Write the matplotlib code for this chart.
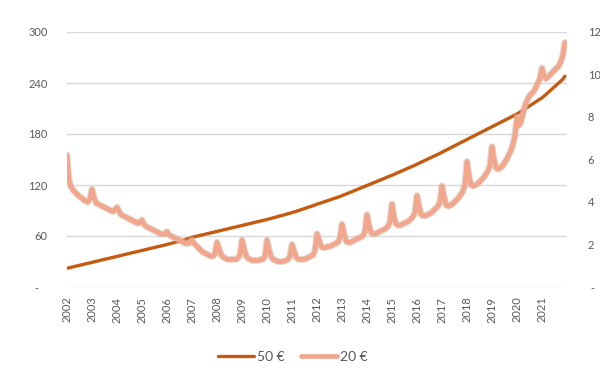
import matplotlib.pyplot as plt
from matplotlib.ticker import FixedLocator, FuncFormatter

plt.rcParams['font.family'] = ['Lato', 'DejaVu Sans']

# monthly values, one row per year 2002..2021
years = list(range(2002, 2022))

eur50 = [
    22, 22.6, 23.2, 23.8, 24.3, 24.9, 25.5, 26.1, 26.7, 27.2, 27.8, 28.4,
    29, 29.6, 30.2, 30.8, 31.3, 31.9, 32.5, 33.1, 33.7, 34.2, 34.8, 35.4,
    36, 36.6, 37.2, 37.8, 38.3, 38.9, 39.5, 40.1, 40.7, 41.2, 41.8, 42.4,
    43, 43.6, 44.2, 44.8, 45.3, 45.9, 46.5, 47.1, 47.7, 48.2, 48.8, 49.4,
    50, 50.7, 51.3, 52.0, 52.7, 53.3, 54.0, 54.7, 55.3, 56.0, 56.7, 57.3,
    58.5, 59, 59.6, 60.2, 60.7, 61.3, 61.9, 62.5, 63.1, 63.6, 64.2, 64.8,
    65.5, 66, 66.6, 67.2, 67.7, 68.3, 68.9, 69.5, 70.1, 70.6, 71.2, 71.8,
    72.5, 73, 73.6, 74.2, 74.7, 75.3, 75.9, 76.5, 77.1, 77.6, 78.2, 78.8,
    79.5, 80, 80.7, 81.4, 82, 82.7, 83.4, 84, 84.7, 85.4, 86, 86.7,
    87.5, 88.2, 89, 89.8, 90.6, 91.5, 92.3, 93.2, 94, 94.8, 95.6, 96.4,
    97.5, 98.2, 99, 99.8, 100.6, 101.5, 102.3, 103.2, 104, 104.8, 105.6, 106.4,
    107.5, 108.4, 109.4, 110.4, 111.4, 112.4, 113.4, 114.4, 115.4, 116.4, 117.4, 118.3,
    119.5, 120.4, 121.4, 122.4, 123.4, 124.4, 125.4, 126.4, 127.4, 128.4, 129.4, 130.3,
    131.5, 132.5, 133.6, 134.7, 135.8, 136.8, 137.9, 139, 140.1, 141.1, 142.2, 143.2,
    144.5, 145.6, 146.8, 148, 149.1, 150.3, 151.5, 152.6, 153.8, 155, 156.1, 157.2,
    158.6, 159.8, 161.1, 162.3, 163.6, 164.8, 166.1, 167.3, 168.6, 169.8, 171.1, 172.2,
    173.6, 174.8, 176.1, 177.3, 178.6, 179.8, 181.1, 182.3, 183.6, 184.8, 186.1, 187.2,
    188.6, 189.8, 191.1, 192.3, 193.6, 194.8, 196.1, 197.3, 198.6, 199.8, 201.1, 202.2,
    203.6, 205.1, 206.6, 208.2, 209.8, 211.4, 213, 214.6, 216.2, 217.8, 219.4, 220.9,
    222.6, 224.6, 226.8, 229, 231.2, 233.4, 235.6, 237.8, 240, 242.2, 244.4, 248,
]

eur20 = [
    6.2, 5.0, 4.7, 4.55, 4.45, 4.35, 4.25, 4.2, 4.1, 4.05, 4.0, 4.15,
    4.6, 4.2, 3.95, 3.9, 3.85, 3.8, 3.75, 3.7, 3.65, 3.6, 3.55, 3.65,
    3.75, 3.55, 3.4, 3.35, 3.3, 3.25, 3.2, 3.15, 3.1, 3.05, 3.0, 3.05,
    3.15, 2.95, 2.85, 2.8, 2.75, 2.7, 2.65, 2.6, 2.55, 2.5, 2.5, 2.5,
    2.6, 2.45, 2.4, 2.35, 2.3, 2.25, 2.2, 2.15, 2.1, 2.05, 2.05, 2.1,
    2.2, 2.05, 1.95, 1.85, 1.75, 1.65, 1.6, 1.55, 1.5, 1.45, 1.45, 1.55,
    2.1, 1.8, 1.5, 1.4, 1.35, 1.3, 1.3, 1.3, 1.3, 1.3, 1.35, 1.5,
    2.2, 1.8, 1.45, 1.35, 1.3, 1.25, 1.25, 1.25, 1.25, 1.3, 1.3, 1.45,
    2.2, 1.75, 1.4, 1.3, 1.25, 1.2, 1.2, 1.2, 1.2, 1.25, 1.3, 1.45,
    2.0, 1.7, 1.4, 1.3, 1.3, 1.3, 1.3, 1.35, 1.4, 1.45, 1.5, 1.7,
    2.5, 2.2, 1.9, 1.85, 1.85, 1.9, 1.9, 1.95, 2.0, 2.05, 2.1, 2.3,
    2.95, 2.5, 2.15, 2.1, 2.1, 2.15, 2.2, 2.25, 2.3, 2.35, 2.4, 2.6,
    3.4, 2.9, 2.55, 2.5, 2.5, 2.55, 2.6, 2.65, 2.7, 2.75, 2.85, 3.05,
    3.9, 3.3, 2.95, 2.9, 2.9, 2.95, 3.0, 3.05, 3.1, 3.2, 3.3, 3.5,
    4.3, 3.8, 3.4, 3.35, 3.35, 3.4, 3.45, 3.5, 3.6, 3.7, 3.8, 4.0,
    4.75, 4.25, 3.85, 3.8, 3.85, 3.9, 4.0, 4.1, 4.2, 4.35, 4.5, 4.8,
    5.9, 5.2, 4.8, 4.75, 4.8, 4.85, 4.95, 5.05, 5.15, 5.3, 5.45, 5.7,
    6.6, 6.0, 5.6, 5.55, 5.6, 5.7, 5.85, 6.0, 6.2, 6.4, 6.7, 7.1,
    8.0, 7.6, 7.8, 8.2, 8.6, 8.8, 9.0, 9.1, 9.2, 9.4, 9.6, 9.8,
    10.3, 9.9, 9.8, 9.9, 10.0, 10.1, 10.2, 10.3, 10.4, 10.6, 10.9, 11.5,
]

months = list(range(len(eur50)))
left_ticks = [0, 60, 120, 180, 240, 300]
right_ticks = [0, 2, 4, 6, 8, 10, 12]

TXT = "#595959"
GRID = "#d9d9d9"

fig = plt.figure(figsize=(6, 3.7), dpi=100)
ax = fig.add_axes([67 / 600, 83 / 370, 500 / 600, 255 / 370])
ax2 = ax.twinx()

# primary axis: 50 €
ax.plot(months, eur50, color="#c55a11", lw=2.4, label="50 €", solid_capstyle="round")
ax.set_ylim(0, 300)
ax.set_xlim(0, 240)
ax.yaxis.set_major_locator(FixedLocator(left_ticks))
ax.yaxis.set_major_formatter(FuncFormatter(lambda v, p: "-   " if v == 0 else f"{v:.0f}"))
ax.grid(axis="y", color=GRID, lw=1)
ax.set_axisbelow(True)

# secondary axis: 20 €
ax2.plot(months, eur20, color="#cdbab0", lw=5, alpha=0.55, solid_capstyle="round")
ax2.plot(months, eur20, color="#f2a68c", lw=3.4, label="20 €", solid_capstyle="round")
ax2.set_ylim(0, 12)
ax2.yaxis.set_major_locator(FixedLocator(right_ticks))
ax2.yaxis.set_major_formatter(FuncFormatter(lambda v, p: " -" if v == 0 else f"{v:.0f}"))

# year labels at each January
ax.set_xticks([12 * i for i in range(len(years))])
ax.set_xticklabels([str(y) for y in years], rotation=90, fontsize=8, color=TXT)

for a in (ax, ax2):
    for s in a.spines.values():
        s.set_visible(False)
    a.tick_params(length=0)
ax.tick_params(axis="y", labelsize=8, labelcolor=TXT, pad=14)
ax.tick_params(axis="x", pad=7)
ax2.tick_params(axis="y", labelsize=8, labelcolor=TXT, pad=15)

h1, l1 = ax.get_legend_handles_labels()
h2, l2 = ax2.get_legend_handles_labels()
fig.legend(h1 + h2, l1 + l2, loc="center", bbox_to_anchor=(293 / 600, 1 - 357 / 370),
           ncol=2, frameon=False, fontsize=10, labelcolor=TXT,
           handlelength=2.6, handletextpad=0.2, columnspacing=1.2)

fig.savefig("out.png", dpi=100, facecolor="white")
plt.close(fig)
